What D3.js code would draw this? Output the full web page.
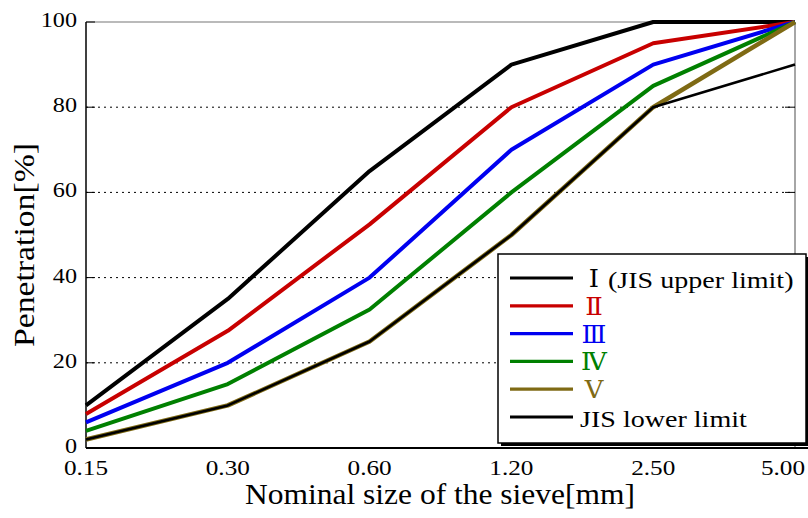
<!DOCTYPE html>
<html>
<head>
<meta charset="utf-8">
<script src="https://cdn.jsdelivr.net/npm/d3@7"></script>
<style>
    body { margin: 0; background: #fff; }
    svg text { font-family: "Liberation Serif", "Times New Roman", serif; fill: #000; }
</style>
</head>
<body>
<svg id="chart" width="808" height="518"></svg>
<script>
// ============================================================
// Data
// ============================================================
const sieveSizes = ["0.15", "0.30", "0.60", "1.20", "2.50", "5.00"];
const yTicks = [0, 20, 40, 60, 80, 100];

const gradeI     = [10, 35, 65, 90, 100, 100];
const gradeII    = [8, 27.5, 52.5, 80, 95, 100];
const gradeIII   = [6, 20, 40, 70, 90, 100];
const gradeIV    = [4, 15, 32.5, 60, 85, 100];
const gradeV     = [2, 10, 25, 50, 80, 100];
const jisLower   = [2, 10, 25, 50, 80, 90];

const seriesNumerals = ["Ⅰ", "Ⅱ", "Ⅲ", "Ⅳ", "Ⅴ", ""];
const seriesLabels   = ["(JIS upper limit)", "", "", "", "", "JIS lower limit"];

// styles kept apart from the values
const seriesColors = ["#000000", "#c80000", "#0000f0", "#008000", "#7f6a14", "#000000"];
const seriesWidths = [4, 4, 4, 4, 4.5, 2.6];

const series = [gradeI, gradeII, gradeIII, gradeIV, gradeV, jisLower].map(function (values, i) {
    return {
        values: values,
        numeral: seriesNumerals[i],
        label: seriesLabels[i],
        color: seriesColors[i],
        width: seriesWidths[i]
    };
});

// ============================================================
// Layout
// ============================================================
const svg = d3.select("#chart");
const W = 808, H = 518;
const plot = { left: 86, right: 795, top: 22, bottom: 448 };

const x = d3.scalePoint()
    .domain(sieveSizes)
    .range([plot.left, plot.right]);

const y = d3.scaleLinear()
    .domain([0, 100])
    .range([plot.bottom, plot.top]);

// stretch text horizontally a bit, the reference font is wider than Times
function stretch(sel, factor) {
    sel.each(function () {
        const len = this.getComputedTextLength();
        d3.select(this)
            .attr("textLength", len * factor)
            .attr("lengthAdjust", "spacingAndGlyphs");
    });
}

// --- dotted grid lines ---
svg.append("g")
    .selectAll("line")
    .data(yTicks.filter(function (d) { return d > 0 && d < 100; }))
    .enter()
    .append("line")
    .attr("x1", plot.left)
    .attr("x2", plot.right)
    .attr("y1", function (d) { return y(d); })
    .attr("y2", function (d) { return y(d); })
    .attr("stroke", "#000")
    .attr("stroke-width", 1)
    .attr("stroke-dasharray", "2,4");

// --- frame: top/right grey, left/bottom black ---
svg.append("line")
    .attr("x1", plot.left).attr("x2", plot.right)
    .attr("y1", y(100)).attr("y2", y(100))
    .attr("stroke", "#777").attr("stroke-width", 1.2);
svg.append("line")
    .attr("x1", plot.right).attr("x2", plot.right)
    .attr("y1", plot.top).attr("y2", plot.bottom)
    .attr("stroke", "#888").attr("stroke-width", 1.5);

// inward ticks on both y sides
const tickG = svg.append("g");
yTicks.forEach(function (t) {
    tickG.append("line")
        .attr("x1", plot.left).attr("x2", plot.left + 9)
        .attr("y1", y(t)).attr("y2", y(t))
        .attr("stroke", "#000").attr("stroke-width", 1);
    tickG.append("line")
        .attr("x1", plot.right - 10).attr("x2", plot.right)
        .attr("y1", y(t)).attr("y2", y(t))
        .attr("stroke", "#000").attr("stroke-width", 1);
});

svg.append("line")
    .attr("x1", plot.left).attr("x2", plot.left)
    .attr("y1", plot.top).attr("y2", plot.bottom)
    .attr("stroke", "#000").attr("stroke-width", 1.5);
svg.append("line")
    .attr("x1", plot.left).attr("x2", W)
    .attr("y1", plot.bottom).attr("y2", plot.bottom)
    .attr("stroke", "#000").attr("stroke-width", 2);

// --- tick labels ---
svg.append("g")
    .selectAll("text")
    .data(yTicks)
    .enter()
    .append("text")
    .attr("x", 77)
    .attr("y", function (d) { return y(d) + 5; })
    .attr("text-anchor", "end")
    .attr("font-size", 22)
    .text(function (d) { return d; })
    .call(stretch, 1.1);

const xLabels = svg.append("g")
    .selectAll("text")
    .data(sieveSizes)
    .enter()
    .append("text")
    .attr("y", 475)
    .attr("font-size", 21)
    .text(function (d) { return d; })
    .call(stretch, 1.2);

// centre under each category, but keep the label inside the picture
xLabels.attr("x", function (d) {
    const w = +d3.select(this).attr("textLength");
    const cx = Math.min(x(d), W - 3 - w / 2);
    return cx - w / 2;
});

// --- axis titles ---
svg.append("text")
    .attr("x", 245)
    .attr("y", 504)
    .attr("font-size", 28.5)
    .text("Nominal size of the sieve[mm]")
    .call(function (sel) {
        sel.attr("textLength", 390).attr("lengthAdjust", "spacingAndGlyphs");
    });

svg.append("text")
    .attr("transform", "translate(34,347) rotate(-90)")
    .attr("font-size", 30)
    .text("Penetration[%]")
    .call(function (sel) {
        sel.attr("textLength", 204).attr("lengthAdjust", "spacingAndGlyphs");
    });

// --- series lines ---
const line = d3.line()
    .x(function (d, i) { return x(sieveSizes[i]); })
    .y(function (d) { return y(d); });

svg.append("g")
    .selectAll("path")
    .data(series)
    .enter()
    .append("path")
    .attr("d", function (s) { return line(s.values); })
    .attr("fill", "none")
    .attr("stroke", function (s) { return s.color; })
    .attr("stroke-width", function (s) { return s.width; })
    .attr("stroke-linejoin", "round");

// --- legend ---
const legend = { x: 498, y: 254, w: 308, h: 189, rowTop: 278, rowStep: 27.8 };

svg.append("rect")
    .attr("x", legend.x + 3).attr("y", legend.y + 3)
    .attr("width", legend.w).attr("height", legend.h)
    .attr("fill", "#000");
svg.append("rect")
    .attr("x", legend.x).attr("y", legend.y)
    .attr("width", legend.w).attr("height", legend.h)
    .attr("fill", "#fff")
    .attr("stroke", "#000")
    .attr("stroke-width", 1.5);

const rows = svg.append("g")
    .selectAll("g")
    .data(series)
    .enter()
    .append("g")
    .attr("transform", function (s, i) {
        return "translate(0," + (legend.rowTop + i * legend.rowStep) + ")";
    });

rows.append("line")
    .attr("x1", 510).attr("x2", 573)
    .attr("stroke", function (s) { return s.color; })
    .attr("stroke-width", 3.2);

rows.filter(function (s) { return s.numeral !== ""; })
    .append("text")
    .attr("x", 594)
    .attr("y", 9)
    .attr("text-anchor", "middle")
    .attr("font-size", 23.5)
    .style("font-family", "'DejaVu Serif', 'Noto Sans CJK JP', serif")
    .style("fill", function (s, i) { return i === 0 ? "#000" : s.color; })
    .text(function (s) { return s.numeral; })
    .call(stretch, 1.1);

rows.filter(function (s) { return s.label !== ""; })
    .append("text")
    .attr("x", function (s) { return s.numeral ? 608 : 580; })
    .attr("y", 10)
    .attr("font-size", 23)
    .text(function (s) { return s.label; })
    .call(stretch, 1.22);
</script>
</body>
</html>
